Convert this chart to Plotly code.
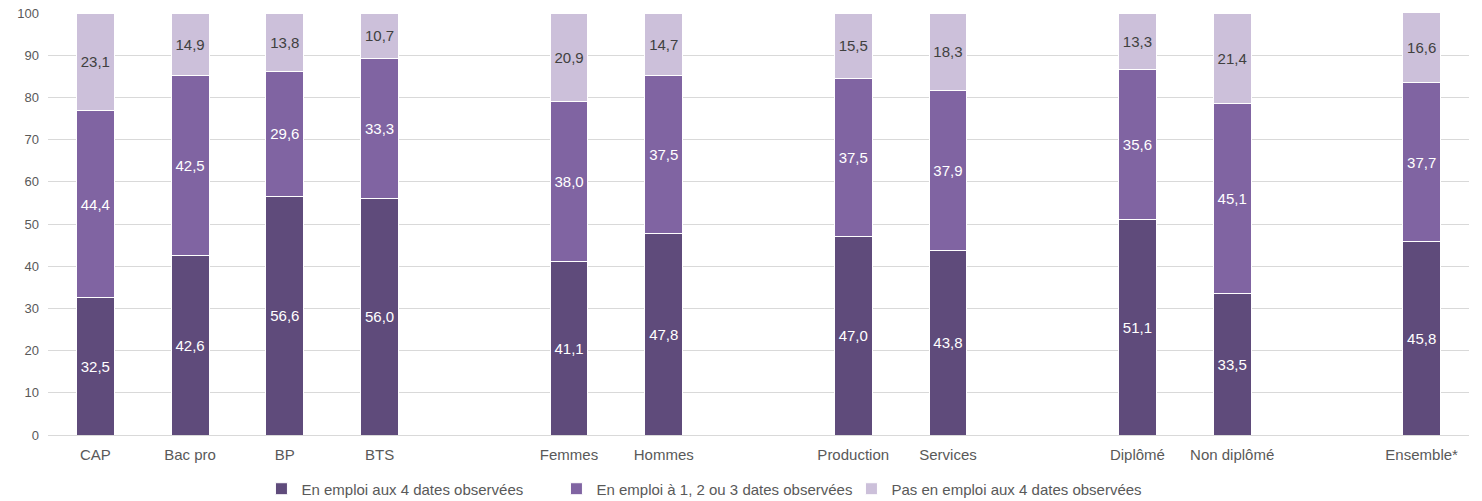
import plotly.graph_objects as go

categories = ["CAP", "Bac pro", "BP", "BTS", " ", "Femmes", "Hommes", "  ",
              "Production", "Services", "   ", "Diplômé", "Non diplômé", "    ", "Ensemble*"]
emploi_4 = [32.5, 42.6, 56.6, 56.0, None, 41.1, 47.8, None, 47.0, 43.8, None, 51.1, 33.5, None, 45.8]
emploi_123 = [44.4, 42.5, 29.6, 33.3, None, 38.0, 37.5, None, 37.5, 37.9, None, 35.6, 45.1, None, 37.7]
pas_emploi = [23.1, 14.9, 13.8, 10.7, None, 20.9, 14.7, None, 15.5, 18.3, None, 13.3, 21.4, None, 16.6]
series_names = ["En emploi aux 4 dates observées",
                "En emploi à 1, 2 ou 3 dates observées",
                "Pas en emploi aux 4 dates observées"]
colors = ["#5F4B7B", "#8064A2", "#CCC0DA"]
text_colors = ["white", "white", "#404040"]

FONT = "Liberation Sans, Arial, sans-serif"

def fmt(v):
    return "" if v is None else f"{v:.1f}".replace(".", ",")

fig = go.Figure()
for name, vals, c, tc in zip(series_names, [emploi_4, emploi_123, pas_emploi], colors, text_colors):
    fig.add_trace(go.Bar(
        x=categories, y=vals, name=name,
        marker=dict(color=c, line=dict(color="white", width=1)),
        text=[fmt(v) for v in vals], textposition="inside", insidetextanchor="middle",
        textangle=0,
        textfont=dict(color=tc, size=15, family=FONT),
        hoverinfo="skip",
    ))

fig.update_layout(
    barmode="stack", bargap=0.6,
    width=1482, height=501,
    margin=dict(l=48, r=13, t=13, b=66, autoexpand=False),
    paper_bgcolor="white", plot_bgcolor="white",
    font=dict(family=FONT, size=15, color="#595959"),
    uniformtext=dict(minsize=15, mode="show"),
    xaxis=dict(categoryorder="array", categoryarray=categories, showgrid=False,
               showline=True, linecolor="#D9D9D9", linewidth=1, ticks="",
               automargin=False, ticklabelstandoff=6,
               tickfont=dict(size=15, color="#595959")),
    yaxis=dict(range=[0, 100], dtick=10, showgrid=True, gridcolor="#D9D9D9",
               gridwidth=1, zeroline=False, ticks="", automargin=False,
               ticklabelstandoff=8,
               tickfont=dict(size=13, color="#595959")),
    legend=dict(orientation="h", x=0.475, xanchor="center", xref="container",
                y=0.024, yanchor="middle", yref="container",
                bgcolor="rgba(0,0,0,0)",
                entrywidth=250, font=dict(size=15, color="#595959"), traceorder="normal",
                itemwidth=30),
)

fig.write_html("out.html", post_script="document.body.style.margin='0px';",
               config={"displayModeBar": False})
